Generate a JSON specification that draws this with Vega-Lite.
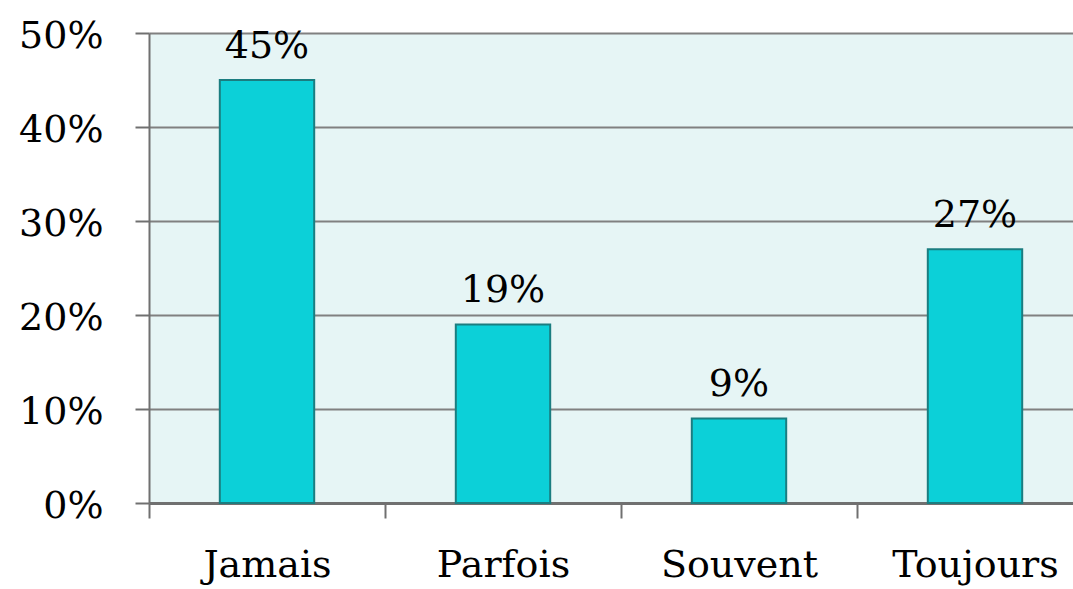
{
  "$schema": "https://vega.github.io/schema/vega-lite/v6.json",
  "autosize": "none",
  "padding": {"left": 149, "top": 33, "right": 0, "bottom": 86},
  "width": 924,
  "height": 470,
  "background": "white",
  "config": {
    "view": {"fill": "#E6F5F5", "stroke": null},
    "font": "DejaVu Serif"
  },
  "data": {
    "values": [
      {"cat": "Jamais", "value": 0.45},
      {"cat": "Parfois", "value": 0.19},
      {"cat": "Souvent", "value": 0.09},
      {"cat": "Toujours", "value": 0.27}
    ]
  },
  "encoding": {
    "x": {
      "field": "cat",
      "type": "nominal",
      "sort": null,
      "scale": {"paddingInner": 0.6, "paddingOuter": 0.3, "range": [0, 944]},
      "axis": {
        "title": null,
        "labelAngle": 0,
        "labelFont": "DejaVu Serif",
        "labelFontSize": 38,
        "labelColor": "#000000",
        "labelPadding": 28,
        "tickOffset": -118,
        "labelOffset": 118,
        "tickSize": 15,
        "tickWidth": 2,
        "tickColor": "#707070",
        "domainColor": "#707070",
        "domainWidth": 3,
        "grid": false
      }
    },
    "y": {
      "field": "value",
      "type": "quantitative",
      "scale": {"domain": [0, 0.5], "nice": false},
      "axis": {
        "title": null,
        "values": [0, 0.1, 0.2, 0.3, 0.4, 0.5],
        "format": ".0%",
        "labelFont": "DejaVu Serif",
        "labelFontSize": 38,
        "labelColor": "#000000",
        "labelPadding": 32,
        "labelOffset": 3,
        "tickSize": 14,
        "tickWidth": 2,
        "tickColor": "#707070",
        "domainColor": "#707070",
        "domainWidth": 2,
        "grid": true,
        "gridColor": "#808080",
        "gridWidth": 2
      }
    }
  },
  "layer": [
    {
      "mark": {"type": "bar", "fill": "#0CD0D8", "stroke": "#1B7D80", "strokeWidth": 2}
    },
    {
      "mark": {"type": "text", "baseline": "alphabetic", "dy": -22, "fontSize": 38, "font": "DejaVu Serif", "color": "#000000"},
      "encoding": {
        "text": {"field": "value", "type": "quantitative", "format": ".0%"}
      }
    }
  ]
}
